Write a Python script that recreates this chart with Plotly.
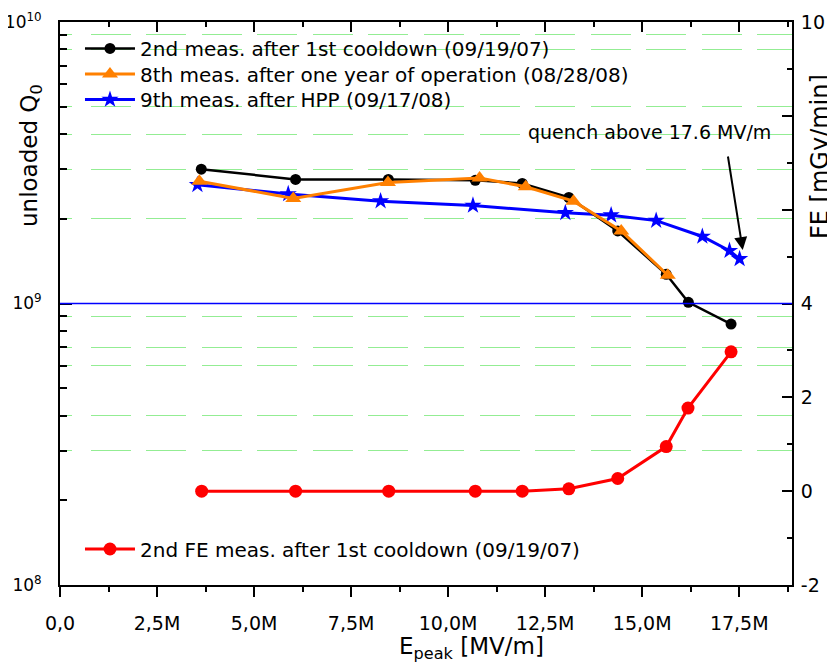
import plotly.graph_objects as go

# ---------------- data ----------------
E_black = [3.64, 6.07, 8.46, 10.70, 11.91, 13.11, 14.37, 15.62, 16.19, 17.29]
Q_black = [3.0e9, 2.76e9, 2.76e9, 2.74e9, 2.67e9, 2.38e9, 1.81e9, 1.27e9, 1.01e9, 8.45e8]

E_orange = [3.59, 6.01, 8.45, 10.81, 12.00, 13.23, 14.46, 15.66]
Q_orange = [2.72e9, 2.36e9, 2.69e9, 2.79e9, 2.60e9, 2.31e9, 1.81e9, 1.26e9]

E_blue = [3.54, 5.88, 8.26, 10.64, 13.02, 14.20, 15.36, 16.55, 17.25, 17.51]
Q_blue = [2.64e9, 2.45e9, 2.31e9, 2.23e9, 2.10e9, 2.06e9, 1.97e9, 1.73e9, 1.54e9, 1.44e9]

E_red = [3.65, 6.07, 8.47, 10.70, 11.91, 13.11, 14.37, 15.62, 16.18, 17.29]
FE_red = [0.0, 0.0, 0.0, 0.0, 0.0, 0.05, 0.27, 0.95, 1.77, 2.97]

x_tickvals = [0, 2.5, 5.0, 7.5, 10.0, 12.5, 15.0, 17.5]
x_ticktext = ["0,0", "2,5M", "5,0M", "7,5M", "10,0M", "12,5M", "15,0M", "17,5M"]
yl_tickvals = [1e8, 1e9, 1e10]
yl_ticktext = ["10<sup>8</sup>", "10<sup>9</sup>", "10<sup>10</sup>"]
yl_gridvals = [3e8, 4e8, 6e8, 7e8, 9e8, 2e9, 3e9, 4e9, 5e9, 8e9, 9e9]
yr_tickvals = [-2, 0, 2, 4, 6, 8, 10]
yr_ticktext = ["-2", "0", "2", "4", "", "", "10"]

names = [
    "2nd meas. after 1st cooldown (09/19/07)",
    "8th meas. after one year of operation (08/28/08)",
    "9th meas. after HPP (09/17/08)",
    "2nd FE meas. after 1st cooldown (09/19/07)",
]

FONT = "DejaVu Sans"
XR = [0, 18.86]
LEG_FONT = 20

fig = go.Figure()
# invisible helper so the overlay axes (top ticks, dotted grid) get drawn
fig.add_trace(go.Scatter(x=E_blue, y=Q_blue, xaxis="x2", yaxis="y3", mode="markers",
                         marker=dict(opacity=0), showlegend=False, hoverinfo="skip"))
fig.add_trace(go.Scatter(x=E_blue, y=Q_blue, name=names[2], mode="lines+markers",
                         line=dict(color="#0000ff", width=3),
                         marker=dict(symbol="star", size=13, color="#0000ff"),
                         legend="legend4"))
fig.add_trace(go.Scatter(x=E_black, y=Q_black, name=names[0], mode="lines+markers",
                         line=dict(color="black", width=2.5),
                         marker=dict(symbol="circle", size=11, color="black"),
                         legend="legend"))
fig.add_trace(go.Scatter(x=E_orange, y=Q_orange, name=names[1], mode="lines+markers",
                         line=dict(color="#ff8000", width=3),
                         marker=dict(symbol="triangle-up", size=14, color="#ff8000"),
                         legend="legend3"))
fig.add_trace(go.Scatter(x=E_red, y=FE_red, name=names[3], mode="lines+markers",
                         yaxis="y2",
                         line=dict(color="#ff0000", width=3),
                         marker=dict(symbol="circle", size=13, color="#ff0000"),
                         legend="legend2"))

grid_dash = "12px,18.7px," + ",".join(["40px,15.55px"] * 14)

# the page body adds an 8px offset, so margins are reduced by 8 on the left/top
ML, MT, PW, PH = 52, 14, 732, 563
MR = 835 - ML - PW
MB = 666 - MT - PH


def leg(ypix):
    return dict(x=0.0273, y=1 - (ypix - 22) / PH, xanchor="left", yanchor="middle",
                bgcolor="rgba(0,0,0,0)", borderwidth=0, font=dict(size=LEG_FONT, family=FONT),
                itemwidth=50)


fig.update_layout(
    width=835, height=666,
    margin=dict(l=ML, r=MR, t=MT, b=MB, autoexpand=False),
    paper_bgcolor="white", plot_bgcolor="white",
    font=dict(family=FONT, size=19, color="black"),
    xaxis=dict(range=XR, tickmode="array", tickvals=x_tickvals, ticktext=x_ticktext,
               ticks="outside", ticklen=10, tickwidth=2, tickcolor="black",
               minor=dict(ticks="outside", ticklen=5, tickwidth=2, tickcolor="black", dtick=1.25, tick0=0),
               showline=True, linewidth=2, linecolor="black", showgrid=False, zeroline=False,
               tickfont=dict(size=19), ticklabelstandoff=10, automargin=False),
    xaxis2=dict(range=XR, overlaying="x", side="top", anchor="y",
                tickmode="array", tickvals=x_tickvals, showticklabels=False,
                ticks="inside", ticklen=10, tickwidth=2, tickcolor="black",
                minor=dict(ticks="inside", ticklen=5, tickwidth=2, tickcolor="black", dtick=1.25, tick0=0),
                showline=True, linewidth=2, linecolor="black", showgrid=False, zeroline=False,
                automargin=False),
    yaxis=dict(type="log", range=[8, 10], tickmode="array", tickvals=yl_tickvals, ticktext=yl_ticktext,
               ticks="inside", ticklen=12, tickwidth=2, tickcolor="black",
               minor=dict(ticks="inside", ticklen=7, tickwidth=2, tickcolor="black", dtick="D1"),
               showline=True, linewidth=2, linecolor="black", showgrid=False, zeroline=False,
               tickfont=dict(size=17), ticklabelstandoff=13, automargin=False),
    yaxis3=dict(type="log", range=[8, 10], overlaying="y", anchor="x",
                tickmode="array", tickvals=yl_gridvals, showticklabels=False, ticks="",
                showgrid=True, gridcolor="rgba(40,220,40,0.5)", gridwidth=1, griddash=grid_dash,
                showline=False, zeroline=False, automargin=False),
    yaxis2=dict(range=[-2, 10], overlaying="y", side="right", anchor="x",
                tickmode="array", tickvals=yr_tickvals, ticktext=yr_ticktext,
                ticks="inside", ticklen=10, tickwidth=2, tickcolor="black",
                minor=dict(ticks="inside", ticklen=5, tickwidth=2, tickcolor="black", dtick=1, tick0=0),
                showline=True, linewidth=2, linecolor="black", showgrid=False, zeroline=False,
                tickfont=dict(size=19), ticklabelstandoff=3, automargin=False),
    legend=leg(48.4),
    legend3=leg(74.0),
    legend4=leg(99.5),
    legend2=leg(549.0),
    showlegend=True,
)

# reference line at 10^9 (= 4 on the right axis)
fig.add_shape(type="line", xref="paper", x0=0, x1=1, yref="y2", y0=4, y1=4,
              line=dict(color="#0000ff", width=1.5), layer="above")

fig.add_annotation(text="quench above 17.6 MV/m", xref="paper", yref="paper",
                   x=0.8056, y=0.8046, xanchor="center", yanchor="middle",
                   showarrow=False, font=dict(size=19))
fig.add_annotation(text="", xref="x", yref="y2", x=17.59, y=5.14,
                   ax=-15, ay=-95, axref="pixel", ayref="pixel",
                   showarrow=True, arrowhead=2, arrowsize=1.3, arrowwidth=2, arrowcolor="black")
fig.add_annotation(text="unloaded Q<sub>0</sub>", xref="paper", yref="paper",
                   x=-0.0396, y=0.762, xanchor="center", yanchor="middle", textangle=-90,
                   showarrow=False, font=dict(size=23))
fig.add_annotation(text="FE [mGy/min]", xref="paper", yref="paper",
                   x=1.0375, y=0.761, xanchor="center", yanchor="middle", textangle=-90,
                   showarrow=False, font=dict(size=24))
fig.add_annotation(text="E<sub>peak</sub> [MV/m]", xref="paper", yref="paper",
                   x=0.4604, y=-0.112, xanchor="left", yanchor="middle",
                   showarrow=False, font=dict(size=23))

fig.write_html("out.html")
